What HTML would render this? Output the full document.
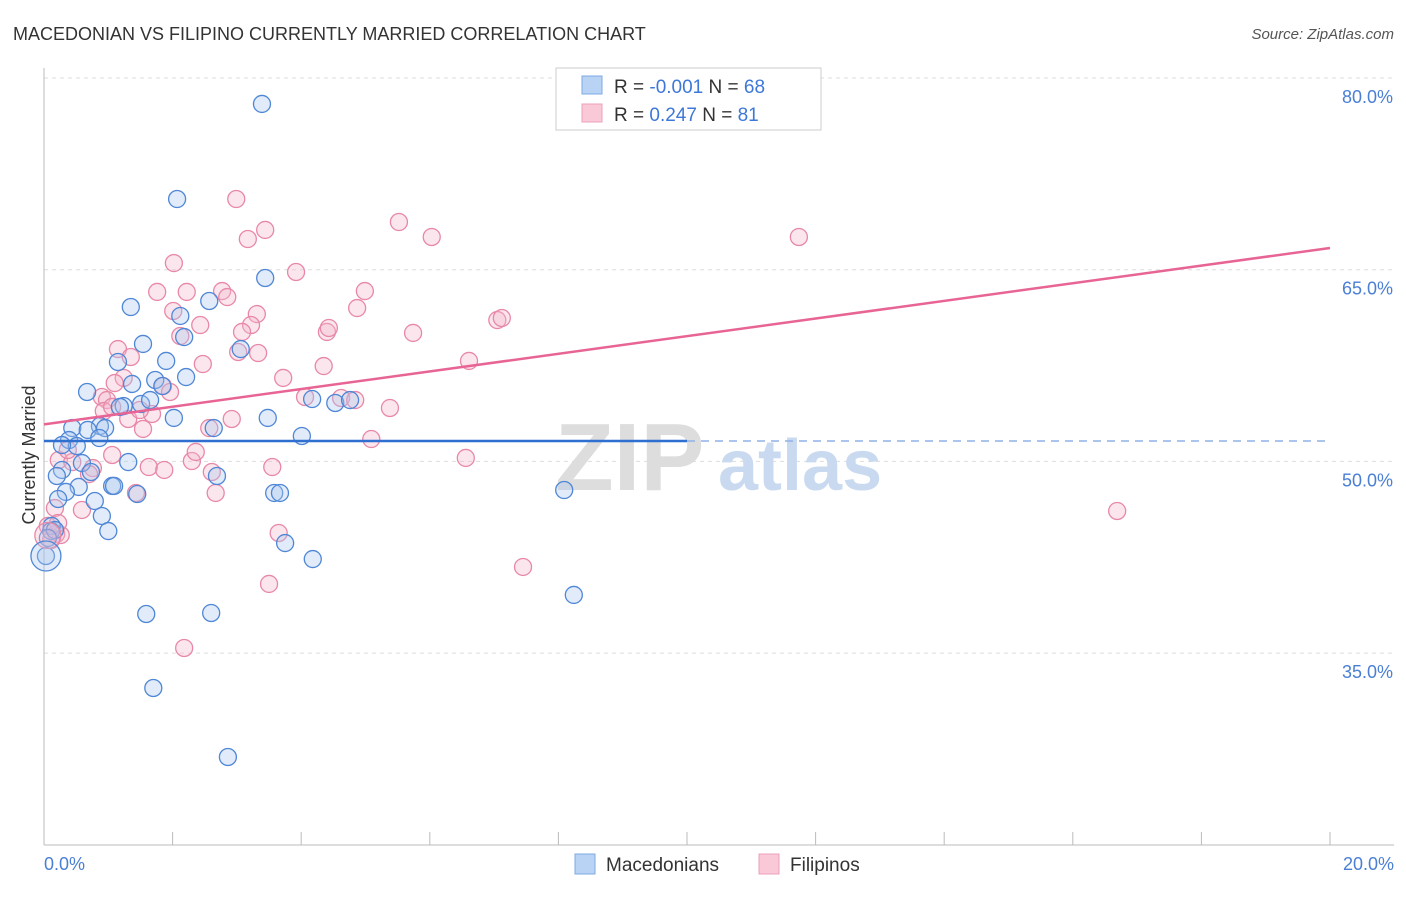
<!DOCTYPE html>
<html><head><meta charset="utf-8"><style>
body{margin:0;background:#fff;font-family:"Liberation Sans",sans-serif;}
svg text{font-family:"Liberation Sans",sans-serif;}
</style></head><body>
<svg width="1406" height="892" viewBox="0 0 1406 892">
<text x="13" y="40" font-size="18" fill="#333">MACEDONIAN VS FILIPINO CURRENTLY MARRIED CORRELATION CHART</text>
<text x="1394" y="39" font-size="15" fill="#555" font-style="italic" text-anchor="end">Source: ZipAtlas.com</text>
<g id="grid"></g>
<g><text x="555" y="490" font-size="96" font-family="Liberation Serif" fill="#ddd" font-weight="bold">ZIP</text><text x="718" y="490" font-size="72" fill="#c9daf0" font-weight="bold">atlas</text></g>
<g id="pts"></g>
<g id="trend"></g>
<text x="35" y="455" font-size="18" fill="#333" transform="rotate(-90 35 455)" text-anchor="middle">Currently Married</text>
<text x="44" y="870" font-size="18" fill="#4a7fd4">0.0%</text>
<text x="1394" y="870" font-size="18" fill="#4a7fd4" text-anchor="end">20.0%</text>
<g>
<rect x="556" y="68" width="265" height="62" fill="#fff" stroke="#ccc"/>
<rect x="582" y="76" width="20" height="18" fill="#b9d3f5" stroke="#7fa9e3"/>
<rect x="582" y="104" width="20" height="18" fill="#f9c9d8" stroke="#eda0b8"/>
<text x="614" y="93" font-size="19" fill="#333">R = <tspan fill="#3d78d8">-0.001</tspan>   N = <tspan fill="#3d78d8">68</tspan></text>
<text x="614" y="121" font-size="19" fill="#333">R =   <tspan fill="#3d78d8">0.247</tspan>   N =  <tspan fill="#3d78d8">81</tspan></text>
</g>
<g>
<rect x="575" y="854" width="20" height="20" fill="#b9d3f5" stroke="#7fa9e3"/>
<text x="606" y="871" font-size="19" fill="#333">Macedonians</text>
<rect x="759" y="854" width="20" height="20" fill="#f9c9d8" stroke="#eda0b8"/>
<text x="790" y="871" font-size="19" fill="#333">Filipinos</text>
</g>
</svg>
<script>
const yTicks=[80,65,50,35];
const xTicks=[0,1,2,3,4,5,6,7,8,9,10,11,12,13,14,15,16,17,18,19,20];
const blueX=[3.39,2.07,3.44,1.35,2.57,2.12,1.54,2.18,1.15,1.90,3.06,0.67,1.37,1.73,2.21,1.84,1.24,1.51,1.65,1.18,2.02,3.48,0.87,0.44,0.68,0.95,0.39,0.86,0.51,4.01,4.17,4.53,4.76,1.31,0.28,0.59,0.73,0.20,0.54,0.34,1.06,1.09,1.45,0.22,0.79,2.69,3.58,3.67,8.09,0.90,1.00,0.12,0.11,3.75,4.18,0.03,8.24,1.59,2.60,1.70,2.86,2.64,0.17,0.06,0.28];
const blueY=[77.97,70.53,64.35,62.08,62.55,61.38,59.19,59.73,57.78,57.86,58.79,55.43,56.06,56.37,56.60,55.90,54.33,54.49,54.80,54.26,53.40,53.40,52.77,52.61,52.46,52.61,51.67,51.83,51.20,51.99,54.88,54.57,54.80,49.95,49.33,49.87,49.17,48.86,48.00,47.61,48.08,48.08,47.45,47.06,46.90,48.86,47.53,47.53,47.76,45.73,44.55,44.95,44.55,43.61,42.36,42.60,39.55,38.06,38.14,32.27,26.87,52.61,44.63,44.01,51.28];
const pinkX=[2.99,5.52,3.44,6.03,3.17,11.74,2.02,3.92,1.76,2.22,2.77,2.85,4.99,2.01,3.31,2.43,7.05,7.12,5.74,4.87,3.22,3.08,4.40,2.12,4.43,1.15,3.02,3.33,1.35,2.47,6.61,4.35,3.72,1.24,1.10,1.85,1.96,0.90,0.98,4.06,4.62,5.38,0.93,1.68,1.31,1.54,2.92,2.57,5.09,1.06,0.23,0.44,1.63,1.87,0.76,2.30,3.55,0.70,2.61,6.56,2.36,1.43,2.67,0.59,0.17,3.65,0.06,0.19,0.26,0.11,3.50,7.45,2.18,16.69,1.06,0.22,0.37,4.84,1.49];
const pinkY=[70.53,68.73,68.11,67.56,67.40,67.56,65.52,64.82,63.26,63.26,63.33,62.86,63.33,61.77,61.53,60.67,61.06,61.22,60.05,62.00,60.67,60.13,60.13,59.81,60.44,58.79,58.56,58.48,58.17,57.62,57.86,57.46,56.53,56.53,56.13,55.90,55.43,55.04,54.80,55.04,54.96,54.18,53.94,53.71,53.32,52.54,53.32,52.61,51.75,50.50,50.11,49.95,49.56,49.33,49.48,50.03,49.56,49.01,49.17,50.27,50.74,47.53,47.53,46.20,46.35,44.40,44.95,44.32,44.24,43.85,40.41,41.74,35.40,46.12,54.26,45.18,50.89,54.80,54.02];
const blueTrend=[51.6,51.6];
const pinkTrend=[52.9,66.7];
const bigBlue=[0.03,42.6];
const bigPink=[0.06,44.2];
const NS='http://www.w3.org/2000/svg';
function xs(v){return 44+v*64.3;}
function ys(v){return 78+(80-v)*12.78;}
function mk(tag,attrs,parent){const e=document.createElementNS(NS,tag);for(const k in attrs)e.setAttribute(k,attrs[k]);parent.appendChild(e);return e;}
const grid=document.getElementById('grid');
yTicks.forEach(t=>{
 const l=mk('line',{x1:44,x2:1394,y1:ys(t),y2:ys(t),stroke:'#ddd','stroke-dasharray':'4,4'},grid);
 
 
 const tx=mk('text',{x:1393,y:ys(t)+25,'font-size':18,fill:'#4a7fd4','text-anchor':'end'},grid);
 tx.textContent=t.toFixed(1)+'%';
 
 
});
const ax=mk('line',{x1:44,x2:1394,y1:845,y2:845,stroke:'#bbb'},grid);


const ay=mk('line',{x1:44,x2:44,y1:68,y2:845,stroke:'#bbb'},grid);


xTicks.forEach((t,i)=>{if(i%2)return;
 const l=mk('line',{x1:xs(t),x2:xs(t),y1:832,y2:845,stroke:'#bbb'},grid);
 
 
});
const pts=document.getElementById('pts');
function dot(x,y,r,fill,stroke,name){
 const c=mk('circle',{cx:xs(x),cy:ys(y),r:r,fill:fill,'fill-opacity':0.35,stroke:stroke,'stroke-width':1.3},pts);
 
 
}
pinkX.forEach((x,i)=>dot(x,pinkY[i],8.5,'#f4b6ca','#e888a8','filipino-point'));
blueX.forEach((x,i)=>dot(x,blueY[i],8.5,'#a9c7ef','#4f87d6','macedonian-point'));
dot(bigPink[0],bigPink[1],13,'#f4b6ca','#e888a8','filipino-point');
dot(bigBlue[0],bigBlue[1],15,'#a9c7ef','#4f87d6','macedonian-point');
const tr=document.getElementById('trend');
const b1=mk('line',{x1:xs(0),x2:xs(10),y1:ys(blueTrend[0]),y2:ys(blueTrend[1]),stroke:'#2f6fcf','stroke-width':2.5},tr);


const b2=mk('line',{x1:xs(10),x2:xs(20),y1:ys(blueTrend[0]),y2:ys(blueTrend[1]),stroke:'#8fb2e6','stroke-width':1.5,'stroke-dasharray':'8,6'},tr);


const p1=mk('line',{x1:xs(0),x2:xs(20),y1:ys(pinkTrend[0]),y2:ys(pinkTrend[1]),stroke:'#e76494','stroke-width':2.5},tr);


</script>
</body></html>
